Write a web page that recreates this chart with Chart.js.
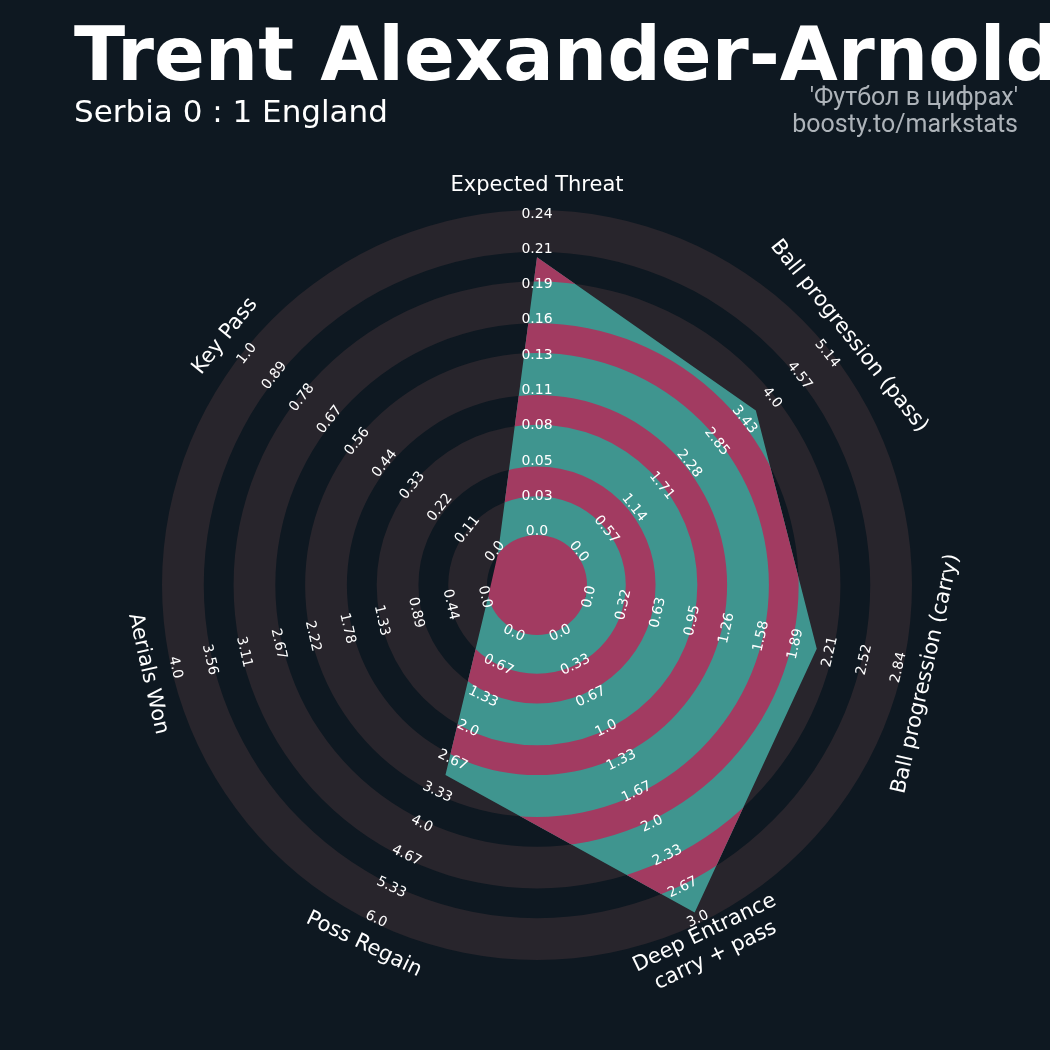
<!DOCTYPE html>
<html>
<head>
<meta charset="utf-8">
<script src="https://cdn.jsdelivr.net/npm/chart.js@4.4.1/dist/chart.umd.min.js"></script>
<style>
  html, body { margin: 0; padding: 0; background: #0e1821; }
  #wrap { position: relative; width: 1050px; height: 1050px; }
  canvas { display: block; }
</style>
</head>
<body>
<div id="wrap"><canvas id="radar" width="1050" height="1050" style="width:1050px;height:1050px"></canvas></div>
<script>
// Parameters shown on the radar, clockwise from the top
const params = [
  'Expected Threat',
  'Ball progression (pass)',
  'Ball progression (carry)',
  ['Deep Entrance', 'carry + pass'],
  'Poss Regain',
  'Aerials Won',
  'Key Pass'
];

// Player values for each parameter
const values = [0.207, 3.67, 2.09, 2.92, 3.0, 0.0, 0.0];

// Upper end of each parameter's range (lower end is 0)
const rangeMax = [0.24, 5.14, 2.84, 3.0, 6.0, 4.0, 1.0];

// Range labels along each spoke, centre to edge
const tickXT    = ['0.0', '0.03', '0.05', '0.08', '0.11', '0.13', '0.16', '0.19', '0.21', '0.24'];
const tickPass  = ['0.0', '0.57', '1.14', '1.71', '2.28', '2.85', '3.43', '4.0', '4.57', '5.14'];
const tickCarry = ['0.0', '0.32', '0.63', '0.95', '1.26', '1.58', '1.89', '2.21', '2.52', '2.84'];
const tickDeep  = ['0.0', '0.33', '0.67', '1.0', '1.33', '1.67', '2.0', '2.33', '2.67', '3.0'];
const tickPoss  = ['0.0', '0.67', '1.33', '2.0', '2.67', '3.33', '4.0', '4.67', '5.33', '6.0'];
const tickAer   = ['0.0', '0.44', '0.89', '1.33', '1.78', '2.22', '2.67', '3.11', '3.56', '4.0'];
const tickKey   = ['0.0', '0.11', '0.22', '0.33', '0.44', '0.56', '0.67', '0.78', '0.89', '1.0'];
const tickLabels = [tickXT, tickPass, tickCarry, tickDeep, tickPoss, tickAer, tickKey];

const title = 'Trent Alexander-Arnold';
const subtitle = 'Serbia 0 : 1 England';
const credits = ["'Футбол в цифрах'", 'boosty.to/markstats'];

// Styling
const BG = '#0e1821';
const RING = '#28252c';
const TEAL = '#3f958f';
const PINK = '#a23b61';
const NUM_RINGS = 9;
const RING_GROW = 3;          // px the shaded rings spill over their bounds
const HOLE = -50 / 322;       // scale minimum, leaves an empty centre circle

const normalised = values.map((v, i) => v / rangeMax[i]);

function ringRadius(scale, k) {
  return scale.getDistanceFromCenterForValue(k / NUM_RINGS);
}

function annulus(ctx, cx, cy, r1, r2) {
  ctx.beginPath();
  ctx.arc(cx, cy, r2, 0, Math.PI * 2, false);
  if (r1 > 0) {
    ctx.moveTo(cx + r1, cy);
    ctx.arc(cx, cy, r1, 0, Math.PI * 2, true);
  }
  ctx.fill();
}

function textRotation(a) {
  // keep text readable: flip on the lower half
  if (a > Math.PI / 2 + 1e-6 && a < Math.PI * 1.5 - 1e-6) return a - Math.PI;
  return a;
}

const radarDecor = {
  id: 'radarDecor',
  beforeDatasetsDraw(chart) {
    const s = chart.scales.r;
    const ctx = chart.ctx;
    ctx.save();
    ctx.fillStyle = RING;
    for (let k = 0; k < NUM_RINGS; k += 2) {
      const inner = ringRadius(s, k) - (k === 0 ? 0 : RING_GROW);
      const outer = ringRadius(s, k + 1) + RING_GROW;
      annulus(ctx, s.xCenter, s.yCenter, inner, outer);
    }
    ctx.restore();
  },
  afterDatasetsDraw(chart) {
    const s = chart.scales.r;
    const ctx = chart.ctx;
    const pts = chart.getDatasetMeta(0).data;

    // alternate bands inside the player polygon
    ctx.save();
    ctx.beginPath();
    pts.forEach((p, i) => (i ? ctx.lineTo(p.x, p.y) : ctx.moveTo(p.x, p.y)));
    ctx.closePath();
    ctx.clip();
    ctx.fillStyle = PINK;
    annulus(ctx, s.xCenter, s.yCenter, 0, ringRadius(s, 0));
    for (let k = 1; k < NUM_RINGS; k += 2) {
      annulus(ctx, s.xCenter, s.yCenter, ringRadius(s, k) + RING_GROW, ringRadius(s, k + 1) - RING_GROW);
    }
    ctx.restore();

    // range labels along every spoke
    const r0 = ringRadius(s, 0) + 3.5;
    const r9 = ringRadius(s, NUM_RINGS) - 1;
    ctx.save();
    ctx.fillStyle = '#ffffff';
    ctx.font = '14px "DejaVu Sans"';
    ctx.textAlign = 'center';
    ctx.textBaseline = 'middle';
    tickLabels.forEach((labels, i) => {
      const rot = textRotation(s.getIndexAngle(i));
      labels.forEach((txt, k) => {
        const p = s.getPointPosition(i, r0 + (r9 - r0) * k / (labels.length - 1));
        ctx.save();
        ctx.translate(p.x, p.y);
        ctx.rotate(rot);
        ctx.fillText(txt, 0, 0);
        ctx.restore();
      });
    });

    // parameter names
    ctx.font = '21px "DejaVu Sans"';
    const rt = s.drawingArea + 27;
    params.forEach((name, i) => {
      const lines = Array.isArray(name) ? name : [name];
      const p = s.getPointPosition(i, rt);
      const rot = textRotation(s.getIndexAngle(i));
      ctx.save();
      ctx.translate(p.x, p.y);
      ctx.rotate(rot);
      const lh = 25;
      lines.forEach((ln, j) => {
        ctx.fillText(ln, 0, (j - (lines.length - 1) / 2) * lh);
      });
      ctx.restore();
    });
    ctx.restore();
  },
  afterDraw(chart) {
    const ctx = chart.ctx;
    ctx.save();
    ctx.fillStyle = '#ffffff';
    ctx.textBaseline = 'alphabetic';
    ctx.textAlign = 'left';
    ctx.font = 'bold 75px "DejaVu Sans"';
    ctx.fillText(title, 74, 80);
    ctx.font = '31px "DejaVu Sans"';
    ctx.fillText(subtitle, 74, 122);
    ctx.fillStyle = '#adb3b9';
    ctx.textAlign = 'right';
    ctx.font = '25px Roboto';
    ctx.fillText(credits[0], 1018, 105);
    ctx.fillText(credits[1], 1018, 132);
    ctx.restore();
  }
};

const canvasBg = {
  id: 'canvasBg',
  beforeDraw(chart) {
    const ctx = chart.ctx;
    ctx.save();
    ctx.fillStyle = BG;
    ctx.fillRect(0, 0, chart.width, chart.height);
    ctx.restore();
  }
};

new Chart(document.getElementById('radar'), {
  type: 'radar',
  data: {
    labels: params,
    datasets: [{
      data: normalised,
      backgroundColor: TEAL,
      borderWidth: 0,
      pointRadius: 0,
      pointHoverRadius: 0,
      fill: true,
      tension: 0
    }]
  },
  options: {
    responsive: false,
    animation: false,
    layout: { padding: { left: 165, right: 141, top: 213, bottom: 93 } },
    plugins: { legend: { display: false }, tooltip: { enabled: false } },
    scales: {
      r: {
        min: HOLE,
        max: 1,
        ticks: { display: false },
        grid: { display: false },
        angleLines: { display: false },
        pointLabels: { display: false }
      }
    }
  },
  plugins: [canvasBg, radarDecor]
});
</script>
</body>
</html>
